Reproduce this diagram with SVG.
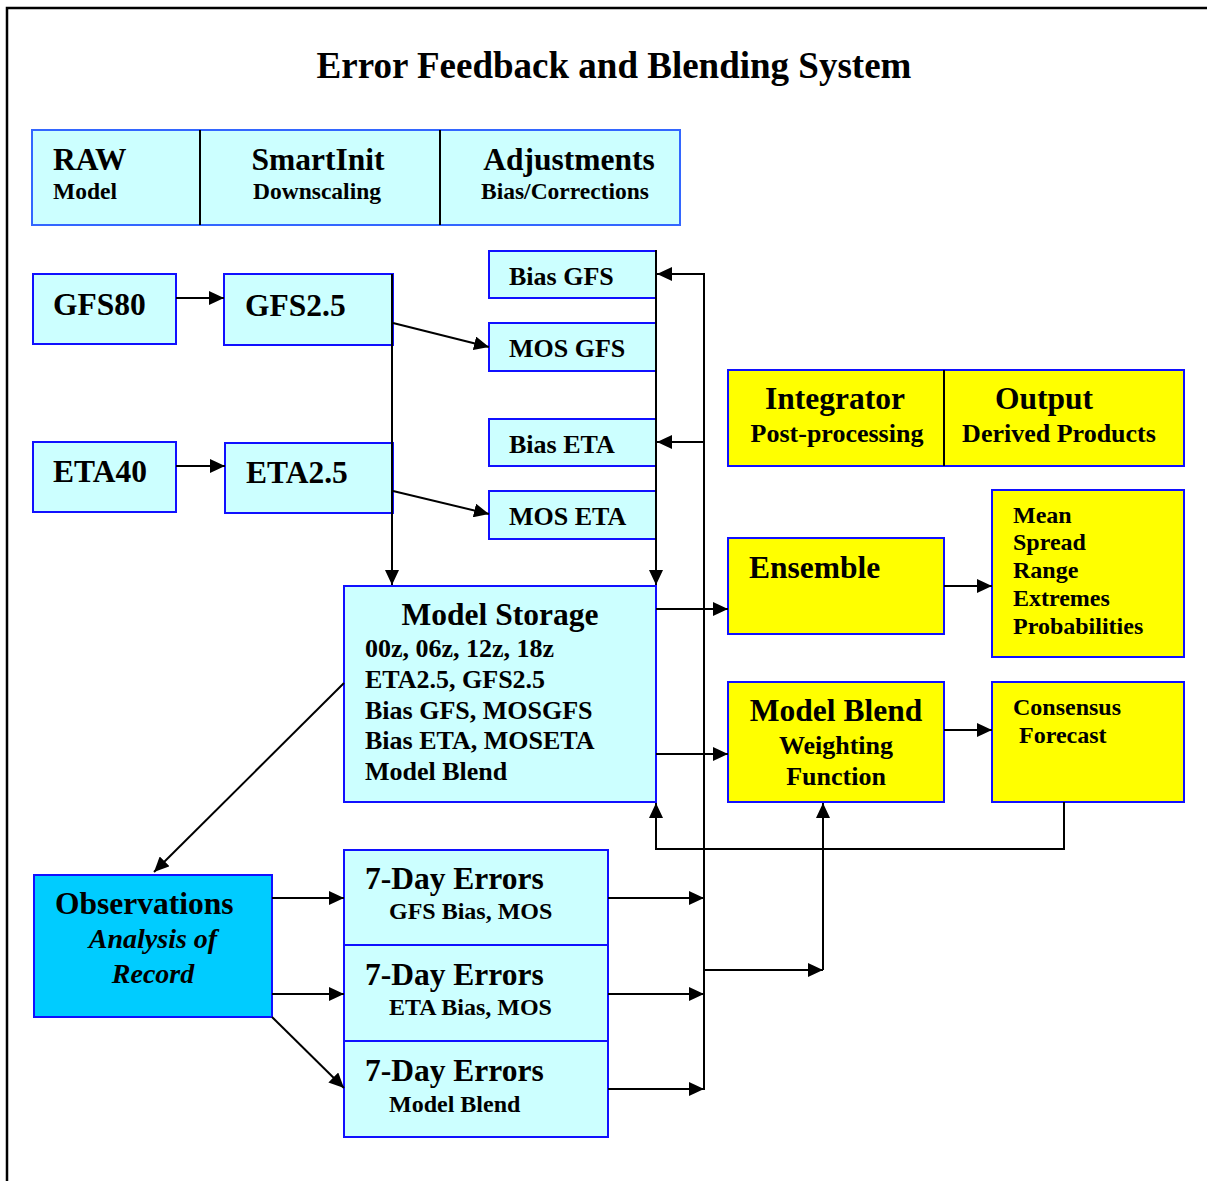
<svg xmlns="http://www.w3.org/2000/svg" width="1207" height="1181" viewBox="0 0 1207 1181">
<defs>
<marker id="ah" markerUnits="userSpaceOnUse" markerWidth="16" markerHeight="14" refX="15" refY="7" orient="auto">
<path d="M0,0 L15,7 L0,14 z" fill="#000"/>
</marker>
<style>
.c{fill:#ccffff;stroke:#1010ff;stroke-width:2}
.h{fill:#ccffff;stroke:#3366ff;stroke-width:2}
.y{fill:#ffff00;stroke:#1010ff;stroke-width:2}
.o{fill:#00ccff;stroke:#1010ff;stroke-width:2}
.d{stroke:#000;stroke-width:2;fill:none}
text{font-family:"Liberation Serif","Times New Roman",serif;font-weight:bold;fill:#000}
.L{font-size:31.5px}
.M{font-size:26px}
.S{font-size:24px}
.m{text-anchor:middle}
.i{font-style:italic}
#conn path{stroke:#000;stroke-width:2;fill:none}
</style>
</defs>
<rect x="0" y="0" width="1207" height="1181" fill="#fff"/>
<rect x="7" y="8" width="1220" height="1200" fill="none" stroke="#000" stroke-width="2.5"/>
<text x="614" y="78" class="m" style="font-size:37px">Error Feedback and Blending System</text>

<g id="header">
<rect class="h" x="32" y="130" width="648" height="95"/>
<line class="d" x1="200" y1="130" x2="200" y2="225"/>
<line class="d" x1="440" y1="130" x2="440" y2="225"/>
<text x="53" y="170" class="L">RAW</text>
<text x="53" y="199" class="S" style="font-size:23.5px">Model</text>
<text x="318" y="170" class="L m">SmartInit</text>
<text x="317" y="199" class="S m" style="font-size:23.5px">Downscaling</text>
<text x="569" y="170" class="L m">Adjustments</text>
<text x="565" y="199" class="S m" style="font-size:23.5px">Bias/Corrections</text>
</g>

<g id="gfs80"><rect class="c" x="33" y="274" width="143" height="70"/><text x="53" y="315" class="L">GFS80</text></g>
<g id="gfs25"><rect class="c" x="224" y="274" width="169" height="71"/><text x="245" y="316" class="L">GFS2.5</text></g>
<g id="eta40"><rect class="c" x="33" y="442" width="143" height="70"/><text x="53" y="482" class="L">ETA40</text></g>
<g id="eta25"><rect class="c" x="225" y="443" width="168" height="70"/><text x="246" y="483" class="L">ETA2.5</text></g>

<g id="biasgfs"><rect class="c" x="489" y="251" width="167" height="47"/><text x="509" y="285" class="M">Bias GFS</text></g>
<g id="mosgfs"><rect class="c" x="489" y="323" width="167" height="48"/><text x="509" y="357" class="M">MOS GFS</text></g>
<g id="biaseta"><rect class="c" x="489" y="419" width="167" height="47"/><text x="509" y="453" class="M">Bias ETA</text></g>
<g id="moseta"><rect class="c" x="489" y="491" width="167" height="48"/><text x="509" y="525" class="M">MOS ETA</text></g>

<g id="integrator">
<rect class="y" x="728" y="370" width="456" height="96"/>
<line class="d" x1="944" y1="370" x2="944" y2="466"/>
<text x="835" y="409" class="L m">Integrator</text>
<text x="837" y="442" class="M m">Post-processing</text>
<text x="1044" y="409" class="L m">Output</text>
<text x="1059" y="442" class="M m">Derived Products</text>
</g>

<g id="storage">
<rect class="c" x="344" y="586" width="312" height="216"/>
<text x="500" y="625" class="L m">Model Storage</text>
<text x="365" y="657" class="M">00z, 06z, 12z, 18z</text>
<text x="365" y="688" class="M">ETA2.5, GFS2.5</text>
<text x="365" y="719" class="M">Bias GFS, MOSGFS</text>
<text x="365" y="749" class="M">Bias ETA, MOSETA</text>
<text x="365" y="780" class="M">Model Blend</text>
</g>

<g id="ensemble"><rect class="y" x="728" y="538" width="216" height="96"/><text x="749" y="578" class="L">Ensemble</text></g>
<g id="products">
<rect class="y" x="992" y="490" width="192" height="167"/>
<text x="1013" y="523" class="S">Mean</text>
<text x="1013" y="550" class="S">Spread</text>
<text x="1013" y="578" class="S">Range</text>
<text x="1013" y="606" class="S">Extremes</text>
<text x="1013" y="634" class="S">Probabilities</text>
</g>
<g id="modelblend">
<rect class="y" x="728" y="682" width="216" height="120"/>
<text x="836" y="721" class="L m">Model Blend</text>
<text x="836" y="754" class="M m">Weighting</text>
<text x="836" y="785" class="M m">Function</text>
</g>
<g id="consensus">
<rect class="y" x="992" y="682" width="192" height="120"/>
<text x="1013" y="715" class="S">Consensus</text>
<text x="1019" y="743" class="S">Forecast</text>
</g>

<g id="observations">
<rect class="o" x="34" y="875" width="238" height="142"/>
<text x="55" y="914" class="L">Observations</text>
<text x="153" y="948" class="M m i" style="font-size:28px">Analysis of</text>
<text x="153" y="983" class="M m i" style="font-size:28px">Record</text>
</g>

<g id="err1"><rect class="c" x="344" y="850" width="264" height="95"/><text x="365" y="889" class="L">7-Day Errors</text><text x="389" y="919" class="S">GFS Bias, MOS</text></g>
<g id="err2"><rect class="c" x="344" y="945" width="264" height="96"/><text x="365" y="985" class="L">7-Day Errors</text><text x="389" y="1015" class="S">ETA Bias, MOS</text></g>
<g id="err3"><rect class="c" x="344" y="1041" width="264" height="96"/><text x="365" y="1081" class="L">7-Day Errors</text><text x="389" y="1112" class="S">Model Blend</text></g>

<g id="conn">
<path d="M176,298 H224" marker-end="url(#ah)"/>
<path d="M176,466 H225" marker-end="url(#ah)"/>
<path d="M393,323 L489,347" marker-end="url(#ah)"/>
<path d="M393,491 L489,514" marker-end="url(#ah)"/>
<path d="M392,274 V585" marker-end="url(#ah)"/>
<path d="M656,250 V585" marker-end="url(#ah)"/>
<path d="M704,273 V1090"/>
<path d="M704,274 H657" marker-end="url(#ah)"/>
<path d="M704,442 H657" marker-end="url(#ah)"/>
<path d="M656,609 H728" marker-end="url(#ah)"/>
<path d="M656,754 H728" marker-end="url(#ah)"/>
<path d="M944,586 H992" marker-end="url(#ah)"/>
<path d="M944,730 H992" marker-end="url(#ah)"/>
<path d="M1064,802 V849 H656 V803" marker-end="url(#ah)"/>
<path d="M704,970 H823" marker-end="url(#ah)"/>
<path d="M823,970 V803" marker-end="url(#ah)"/>
<path d="M344,683 L154,872" marker-end="url(#ah)"/>
<path d="M272,898 H344" marker-end="url(#ah)"/>
<path d="M272,994 H344" marker-end="url(#ah)"/>
<path d="M272,1017 L344,1088" marker-end="url(#ah)"/>
<path d="M608,898 H704" marker-end="url(#ah)"/>
<path d="M608,994 H704" marker-end="url(#ah)"/>
<path d="M608,1089 H704" marker-end="url(#ah)"/>
</g>
</svg>
